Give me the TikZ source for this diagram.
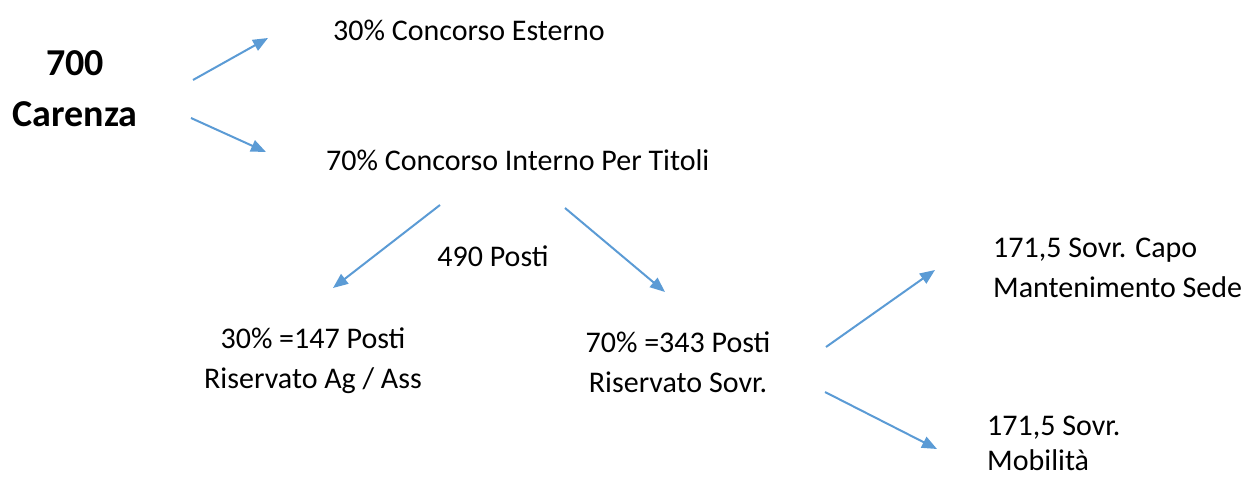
\documentclass[tikz,border=0pt]{standalone}
\usepackage{fontspec}
\setmainfont{Carlito}
\usetikzlibrary{arrows.meta}
\definecolor{arrblue}{HTML}{5B9BD5}
\begin{document}
\begin{tikzpicture}[x=1pt,y=-1pt,
  lbl/.style={inner sep=0pt,font=\fontsize{30}{40}\selectfont,align=center},
  lbll/.style={lbl,align=left},
  big/.style={inner sep=0pt,font=\fontsize{38}{51}\selectfont\bfseries,align=center},
  arr/.style={draw=arrblue,line width=2pt,-{Triangle[length=15pt,width=12pt]}}]
\useasboundingbox (0,0) rectangle (1243,477);
\node[big] (root) at (75,89) {700\\Carenza};
\node[lbl,anchor=west] (est) at (333,30) {30\% Concorso Esterno};
\node[lbl,anchor=west] (int) at (326,160) {70\% Concorso Interno Per Titoli};
\node[lbl] (posti) at (493,256) {490 Posti};
\node[lbl] (ag) at (313,361) {30\% =147 Posti\\Riservato Ag / Ass};
\node[lbl] (sovr) at (678,362) {70\% =343 Posti\\Riservato Sovr.};
\node[lbll,anchor=west] (capo) at (993,268) {171,5 Sovr. Capo\\Mantenimento Sede};
\node[lbll,anchor=west,font=\fontsize{30}{35}\selectfont] (mob) at (987,443) {171,5 Sovr.\\Mobilità};
\coordinate (r1) at (193,80); \coordinate (e1) at (268,38);
\coordinate (r2) at (191,118); \coordinate (i1) at (266,152);
\coordinate (i2) at (440,205); \coordinate (a1) at (333,288);
\coordinate (i3) at (565,208); \coordinate (s1) at (665,292);
\coordinate (s2) at (826,347); \coordinate (c1) at (935,270);
\coordinate (s3) at (825,392); \coordinate (m1) at (937,449);
\draw[arr] (r1) -- (e1);
\draw[arr] (r2) -- (i1);
\draw[arr] (i2) -- (a1);
\draw[arr] (i3) -- (s1);
\draw[arr] (s2) -- (c1);
\draw[arr] (s3) -- (m1);
\end{tikzpicture}
\end{document}
